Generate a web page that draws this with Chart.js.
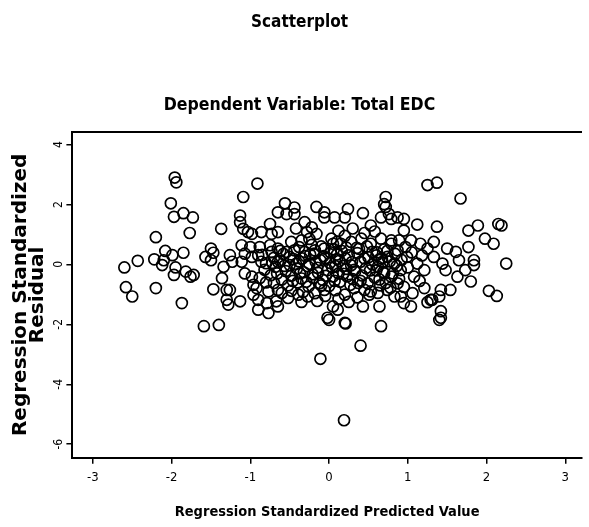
<!DOCTYPE html>
<html>
<head>
<meta charset="utf-8">
<script src="https://cdn.jsdelivr.net/npm/chart.js@4"></script>
<style>
  body { margin: 0; background: #fff; }
  #wrap { width: 589px; height: 527px; }
</style>
</head>
<body>
<div id="wrap"><canvas id="scatter" width="589" height="527"></canvas></div>
<script>
// [predicted, residual] pairs
const leftCluster = [
  [-1.96, 2.90], [-1.94, 2.74], [-2.01, 2.04], [-1.85, 1.71], [-1.97, 1.59], [-1.73, 1.57],
  [-1.77, 1.05], [-2.20, 0.91], [-1.09, 2.25], [-1.13, 1.63], [-1.37, 1.19], [-1.13, 1.41],
  [-1.09, 1.19], [-1.03, 1.08], [-2.60, -0.10], [-2.43, 0.12], [-2.58, -0.76], [-2.50, -1.07],
  [-2.20, -0.79], [-2.22, 0.17], [-2.08, 0.45], [-1.99, 0.31], [-1.85, 0.39], [-2.12, -0.02],
  [-1.95, -0.10], [-1.97, -0.35], [-1.82, -0.24], [-1.76, -0.41], [-1.72, -0.35], [-2.10, 0.14],
  [-1.87, -1.29], [-1.57, 0.25], [-1.50, 0.53], [-1.47, 0.39], [-1.50, 0.14], [-1.26, 0.31],
  [-1.23, 0.09], [-1.34, -0.08], [-1.36, -0.46], [-1.47, -0.83], [-1.30, -0.85], [-1.26, -0.85],
  [-1.30, -1.18], [-1.28, -1.34], [-1.13, -1.23], [-1.59, -2.06], [-1.40, -2.02], [-1.11, 0.64],
  [-1.00, 0.58], [-1.07, 0.36], [-1.11, 0.09], [-0.98, 0.25], [-1.07, -0.30], [-0.98, -0.41],
  [-0.96, -0.68], [-0.96, -1.01], [-0.91, 2.70], [-0.98, 1.02], [-0.90, 0.31], [-0.73, 0.42],
  [-0.86, 0.09], [-0.65, 0.09]
];

const centreBand = [
  [-0.56, 2.04], [-0.44, 1.90], [-0.65, 1.74], [-0.54, 1.68], [-0.44, 1.68], [-0.16, 1.92],
  [-0.06, 1.74], [0.07, 1.57], [-0.06, 1.57], [0.24, 1.85], [0.20, 1.57], [0.43, 1.71],
  [0.72, 2.25], [0.72, 1.92], [0.66, 1.57], [0.76, 1.68], [0.53, 1.30], [-0.75, 1.35],
  [-0.86, 1.08], [-0.73, 1.02], [-0.65, 1.08], [-0.31, 1.41], [-0.22, 1.24], [-0.16, 1.02],
  [-0.35, 0.80], [0.03, 0.86], [0.05, 0.69], [-0.48, 0.75], [-0.88, 0.58], [-0.75, 0.64],
  [-0.65, 0.53], [-0.54, 0.42], [-0.44, 0.47], [-0.31, 0.42], [-0.18, 0.47], [-0.06, 0.53],
  [0.15, 0.69], [0.28, 0.75], [0.41, 0.86], [0.53, 0.69], [0.66, 0.86], [0.79, 0.80],
  [-0.92, -0.79], [-0.77, -0.90], [-0.65, -0.85], [-0.90, -1.18], [-0.79, -1.29], [-0.67, -1.23],
  [-0.90, -1.51], [-0.77, -1.62], [-0.65, -1.40], [-0.52, -1.12], [-0.39, -1.01], [-0.27, -1.07],
  [-0.18, -0.96], [-0.06, -0.85], [0.05, -1.40], [0.11, -1.51], [-0.02, -1.78], [0.20, -1.95],
  [0.43, -1.40], [0.64, -1.40], [0.66, -2.06], [0.49, -0.63], [0.53, -0.90], [0.51, -1.01],
  [0.32, -0.79], [0.20, -1.01],
  [-0.85, 0.32], [-0.70, 0.22], [-0.58, 0.35], [-0.45, 0.18], [-0.30, 0.28], [-0.19, 0.36],
  [-0.05, 0.21], [0.10, 0.33], [0.21, 0.19], [0.36, 0.38], [0.50, 0.24], [0.61, 0.40],
  [0.63, 0.15], [-0.80, 0.04], [-0.62, 0.12], [-0.50, -0.02], [-0.38, 0.10], [-0.25, 0.02],
  [-0.11, 0.14], [0.01, 0.05], [0.13, 0.12], [0.28, -0.03], [0.40, 0.09], [0.55, 0.00],
  [0.68, 0.07], [-0.82, -0.18], [-0.68, -0.08], [-0.55, -0.22], [-0.41, -0.14], [-0.32, -0.26],
  [-0.15, -0.11], [-0.02, -0.19], [0.08, -0.06], [0.22, -0.15], [0.33, -0.24], [0.47, -0.12],
  [0.60, -0.20], [-0.88, -0.45], [-0.74, -0.36], [-0.60, -0.50], [-0.48, -0.38], [-0.35, -0.47],
  [-0.21, -0.33], [-0.08, -0.52], [0.05, -0.40], [0.18, -0.31], [0.30, -0.49], [0.42, -0.37],
  [0.58, -0.44], [0.70, -0.30], [-0.70, -0.62], [-0.52, -0.70], [-0.40, -0.60], [-0.26, -0.74],
  [-0.12, -0.63], [0.00, -0.72], [0.14, -0.58], [0.27, -0.68], [0.40, -0.55], [0.65, -0.70],
  [-0.38, 0.58], [-0.22, 0.65], [-0.10, 0.60], [0.06, 0.50], [0.22, 0.56], [0.38, 0.52],
  [0.48, 0.60], [0.70, 0.50], [-0.48, -0.88], [-0.33, -0.92], [0.08, -0.86], [0.36, -1.10],
  [0.62, -0.95], [-0.15, -1.22], [0.25, -1.25], [-0.28, 1.08], [0.12, 1.12], [0.30, 1.20],
  [0.45, 1.05], [-0.42, 1.20], [0.20, 0.95]
];

// the darkest, most overlapped part of the band
const denseCore = [
  [-0.57, -0.05], [-0.50, 0.25], [-0.46, -0.55], [-0.42, 0.02], [-0.37, -0.30], [-0.34, 0.20],
  [-0.29, -0.58], [-0.27, -0.06], [-0.24, 0.33], [-0.20, -0.45], [-0.17, 0.08], [-0.14, -0.28],
  [-0.10, -0.70], [-0.07, 0.28], [-0.04, -0.38], [0.02, 0.40], [0.04, -0.10], [0.07, -0.55],
  [0.10, 0.18], [0.12, -0.30], [0.16, 0.45], [0.18, -0.05], [0.23, -0.40], [0.25, 0.30],
  [0.29, 0.08], [0.32, -0.18], [0.35, 0.55], [0.37, -0.62], [0.60, 0.30], [0.62, -0.08],
  [0.64, -0.50], [0.67, 0.20], [0.69, -0.25], [0.72, -0.62], [0.74, 0.45], [0.77, 0.10],
  [0.78, -0.78], [0.81, -0.30], [0.84, 0.35], [0.86, -0.05], [0.89, -0.48], [0.92, 0.15],
  [-0.80, -0.60], [-0.72, 0.05], [-0.66, -0.30], [-0.62, 0.45], [-0.60, -0.95], [-0.35, -1.25],
  [-0.05, -1.05], [0.12, -1.15], [0.45, -0.85], [0.52, -0.20], [0.55, 0.42], [0.45, 0.20],
  [1.00, -0.10], [1.05, 0.40], [1.15, -0.55], [1.18, 0.30], [0.95, -0.75], [-0.25, 0.85],
  [0.10, 0.75], [0.58, 1.10]
];

const rightCluster = [
  [1.25, 2.65], [1.37, 2.73], [1.67, 2.20], [1.12, 1.33], [1.37, 1.26], [1.77, 1.13],
  [1.89, 1.30], [2.15, 1.35], [2.19, 1.30], [1.98, 0.86], [2.09, 0.69], [1.77, 0.58],
  [2.25, 0.03], [1.84, 0.14], [1.84, -0.02], [1.80, -0.57], [2.03, -0.88], [2.13, -1.05],
  [1.42, -1.56], [1.42, -1.78], [1.33, 0.75], [1.50, 0.53], [1.61, 0.42], [1.65, 0.14],
  [1.73, -0.19], [1.63, -0.41], [1.54, -0.85], [1.42, -0.85], [1.29, -1.18], [1.40, -1.07],
  [0.95, 1.52], [0.87, 1.57], [0.79, 1.52], [0.95, 1.13], [0.70, 2.01], [1.16, 0.69],
  [1.25, 0.53], [1.33, 0.25], [1.44, 0.03], [1.48, -0.19], [0.99, 0.25], [1.12, 0.03],
  [1.21, -0.19], [1.08, -0.41], [1.21, -0.79], [1.06, -0.96], [0.91, -1.07], [1.04, -1.40],
  [0.95, -1.29], [0.79, 0.69], [0.87, 0.47], [0.74, 0.25], [0.83, 0.03], [0.91, -0.19],
  [0.79, -0.41], [0.87, -0.63], [0.74, -0.85], [0.83, -1.07], [0.89, 0.80], [0.97, 0.58],
  [1.04, 0.80], [1.25, -1.26], [1.31, -1.18]
];

const outliers = [
  [-0.11, -3.15], [0.19, -5.20], [0.40, -2.71], [0.21, -1.97], [0.00, -1.85], [1.40, -1.85]
];

const xTickValues = [-3, -2, -1, 0, 1, 2, 3];
const yTickValues = [-6, -4, -2, 0, 2, 4];

const narrow = "'Liberation Sans Narrow', 'DejaVu Sans Condensed', 'Liberation Sans', sans-serif";

const points = [...leftCluster, ...centreBand, ...denseCore, ...rightCluster, ...outliers]
  .map(([x, y]) => ({ x, y }));

const keepTicks = (values) => (scale) => {
  scale.ticks = values.map((v) => ({ value: v }));
};

new Chart(document.getElementById('scatter'), {
  type: 'scatter',
  data: {
    datasets: [{
      data: points,
      pointStyle: 'circle',
      pointRadius: 5.5,
      pointHoverRadius: 5.5,
      borderColor: '#000',
      backgroundColor: 'rgba(0,0,0,0)',
      pointBorderWidth: 1.7
    }]
  },
  options: {
    responsive: false,
    animation: false,
    layout: { padding: { left: 10, right: 0, top: 0, bottom: 0 } },
    plugins: {
      legend: { display: false },
      tooltip: { enabled: false },
      title: {
        display: true,
        text: 'Scatterplot',
        color: '#000',
        font: { family: narrow, size: 17, weight: 'bold' },
        padding: { top: 12, bottom: 4 }
      },
      subtitle: {
        display: true,
        text: 'Dependent Variable: Total EDC',
        color: '#000',
        font: { family: narrow, size: 17.5, weight: 'bold' },
        padding: { top: 59, bottom: 15.6 }
      }
    },
    scales: {
      x: {
        type: 'linear',
        position: 'bottom',
        min: -3.26,
        max: 3.21,
        afterBuildTicks: keepTicks(xTickValues),
        ticks: { color: '#000', font: { family: narrow, size: 13 }, padding: 6 },
        grid: { display: true, drawOnChartArea: false, tickLength: 6, color: '#000', lineWidth: 1.5 },
        border: { display: true, color: '#000', width: 2 },
        title: {
          display: true,
          text: 'Regression Standardized Predicted Value',
          color: '#000',
          font: { family: narrow, size: 14.5, weight: 'bold' },
          padding: { top: 12, bottom: 6.3 }
        }
      },
      xTop: {
        type: 'linear',
        position: 'top',
        min: -3.26,
        max: 3.21,
        ticks: { display: false },
        grid: { display: false, drawTicks: false, tickLength: 0 },
        border: { display: true, color: '#000', width: 2 }
      },
      y: {
        type: 'linear',
        min: -6.45,
        max: 4.42,
        afterBuildTicks: keepTicks(yTickValues),
        ticks: {
          color: '#000',
          font: { family: narrow, size: 12 },
          padding: 2,
          minRotation: 90,
          maxRotation: 90,
          crossAlign: 'center'
        },
        grid: { display: true, drawOnChartArea: false, tickLength: 6, color: '#000', lineWidth: 1.5 },
        border: { display: true, color: '#000', width: 2 },
        title: {
          display: true,
          text: ['Regression Standardized', 'Residual'],
          color: '#000',
          font: { family: "'DejaVu Sans', sans-serif", size: 20, weight: 'bold', lineHeight: 0.85 },
          padding: { top: 2, bottom: 2 }
        }
      }
    }
  }
});
</script>
</body>
</html>
